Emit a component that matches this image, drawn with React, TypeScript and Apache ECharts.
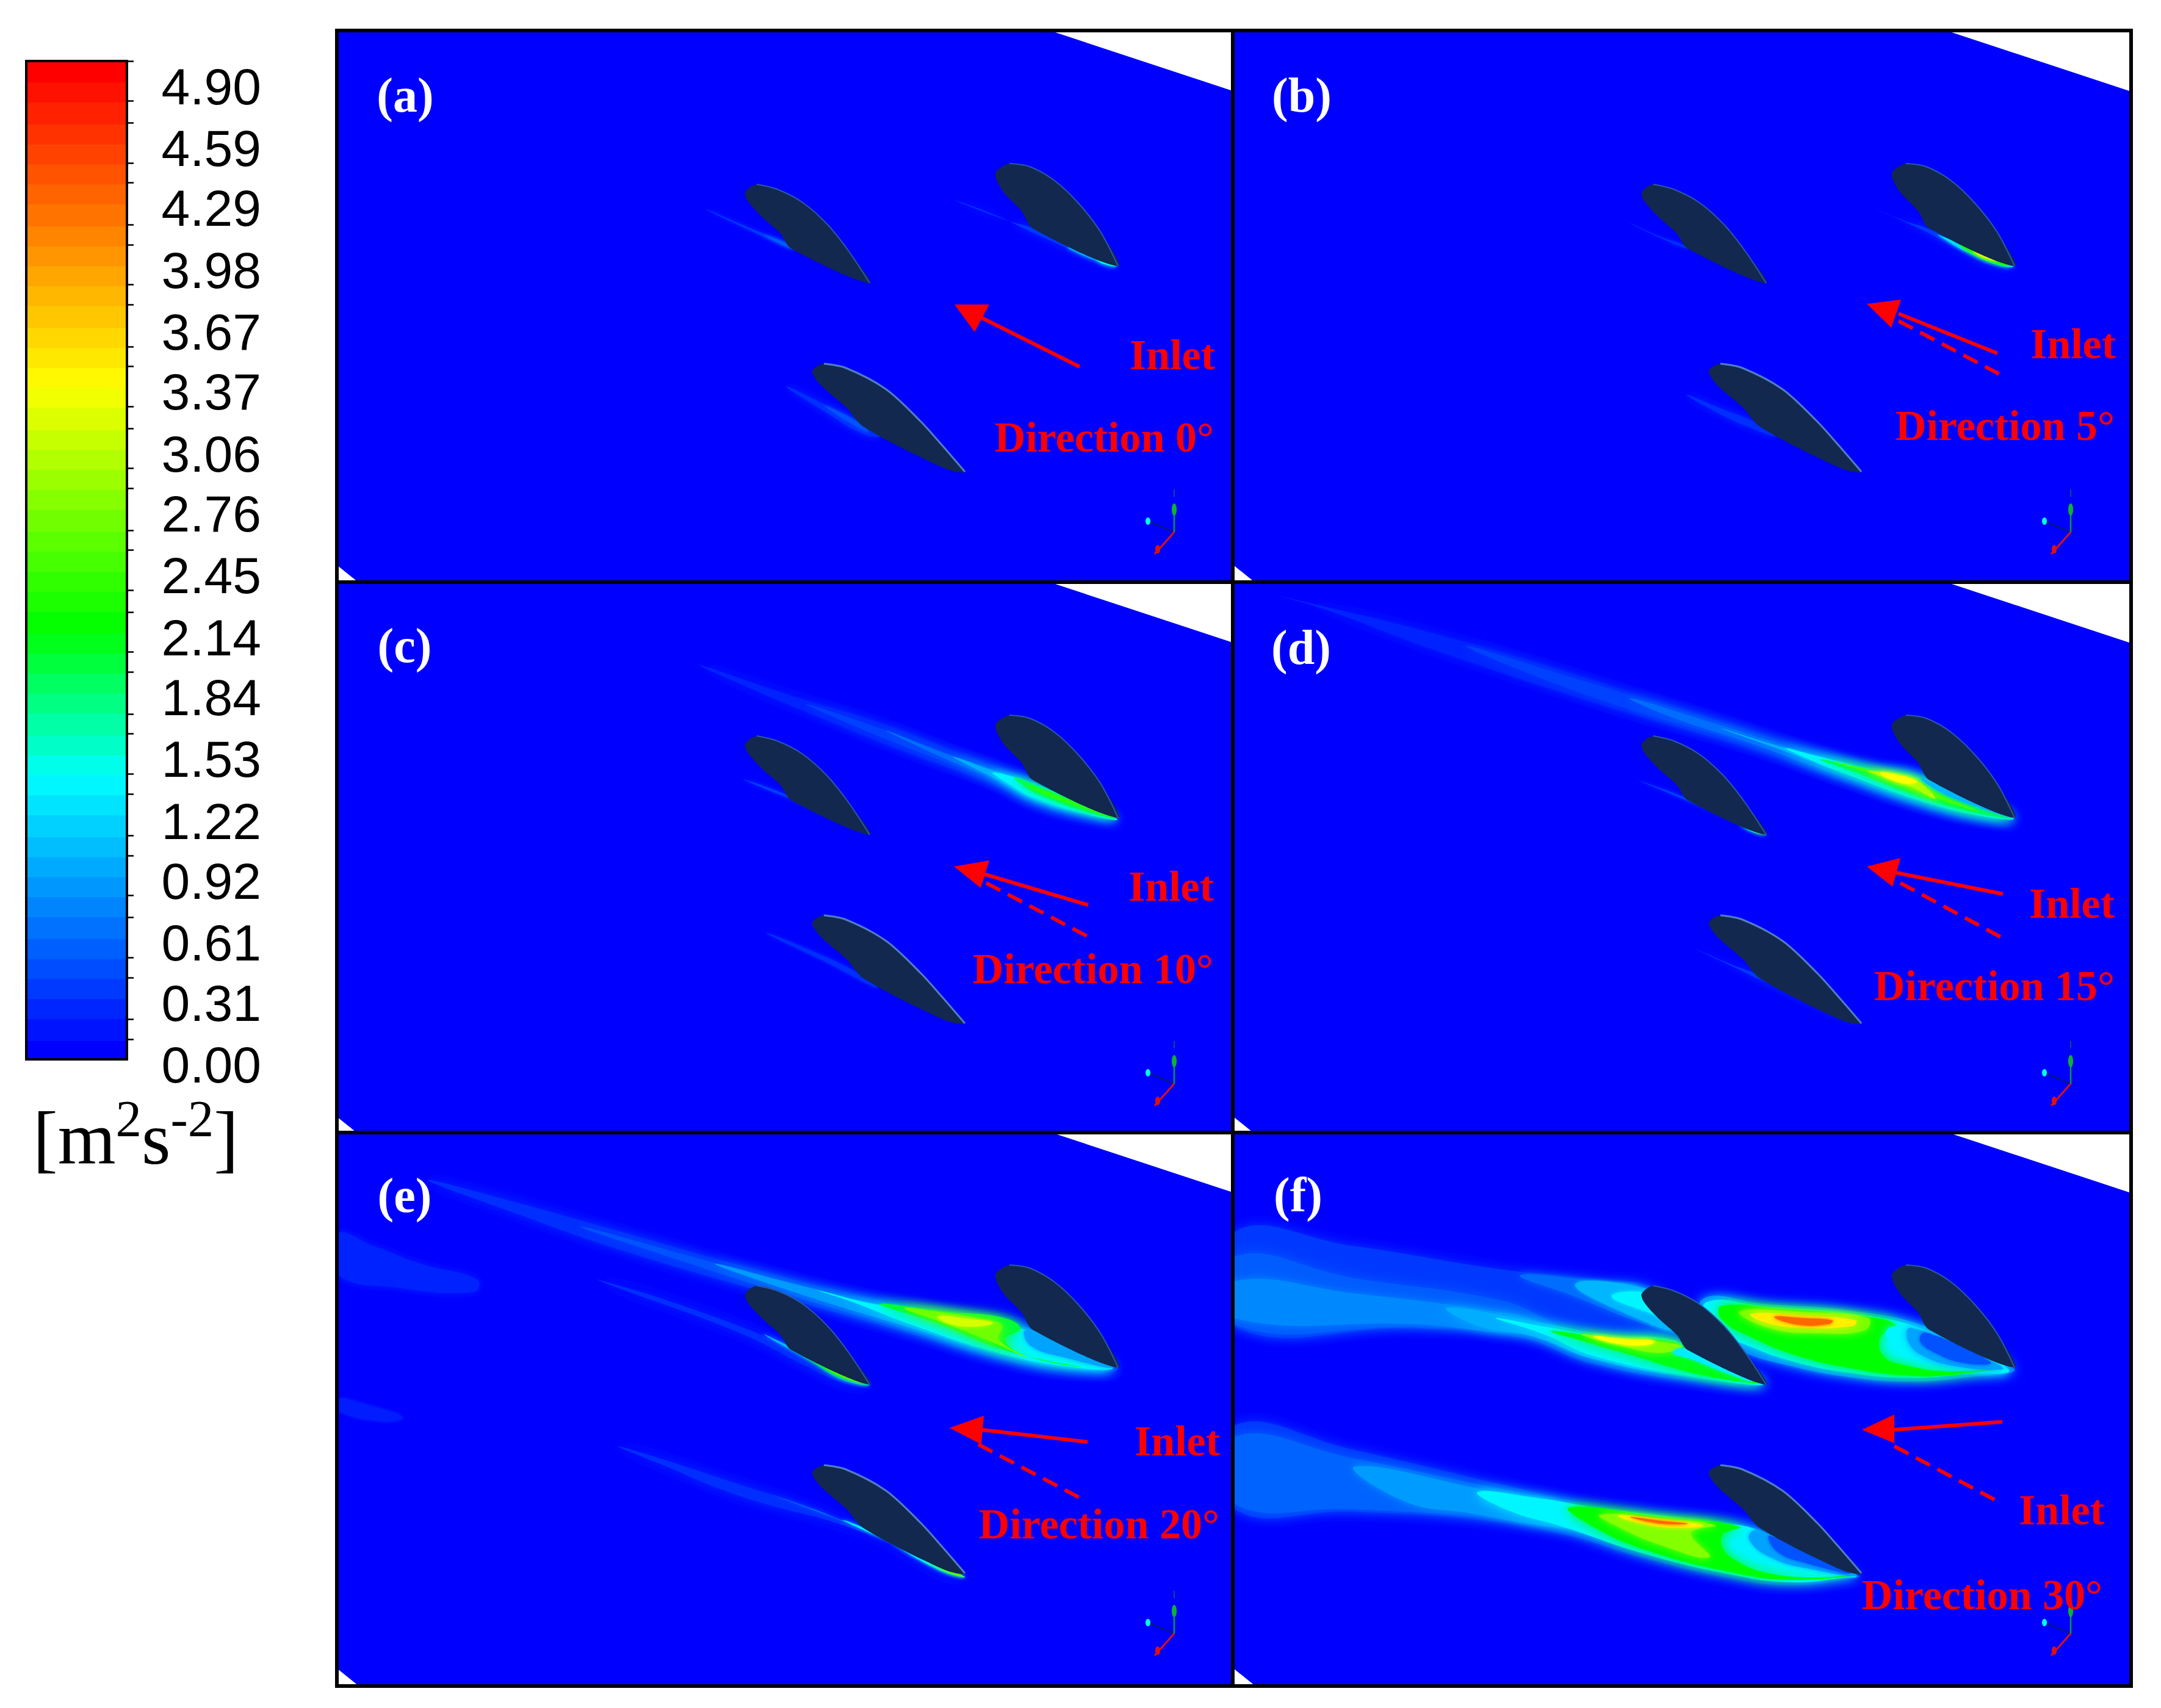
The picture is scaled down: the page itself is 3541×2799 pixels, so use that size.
import { useEffect, useRef } from 'react'
import * as echarts from 'echarts'

type Pt = number[]
type Layer = [number, Pt[]]

// colour scale, value then colour
const scaleStops: [number, number[]][] = [
  [0, [0, 0, 255]],
  [1.4, [0, 255, 255]],
  [2.16, [0, 255, 0]],
  [3.4, [255, 255, 0]],
  [5, [255, 0, 0]],
]

const tickValues = [0.0, 0.31, 0.61, 0.92, 1.22, 1.53, 1.84, 2.14, 2.45, 2.76, 3.06, 3.37, 3.67, 3.98, 4.29, 4.59, 4.9]
const minorValues = [
  0.1, 0.2, 0.41, 0.51, 0.71, 0.82, 1.02, 1.12, 1.33, 1.43, 1.63, 1.73, 1.94, 2.04, 2.24, 2.35, 2.55, 2.65, 2.86, 2.96,
  3.16, 3.27, 3.47, 3.57, 3.78, 3.88, 4.08, 4.18, 4.39, 4.49, 4.69, 4.8, 5.0,
]
const bandValues = [
  0.05, 0.15, 0.26, 0.36, 0.46, 0.56, 0.66, 0.77, 0.87, 0.97, 1.07, 1.17, 1.28, 1.38, 1.48, 1.58, 1.68, 1.79, 1.89, 1.99,
  2.09, 2.19, 2.3, 2.4, 2.5, 2.6, 2.7, 2.81, 2.91, 3.01, 3.11, 3.21, 3.32, 3.42, 3.52, 3.62, 3.72, 3.83, 3.93, 4.03,
  4.13, 4.23, 4.34, 4.44, 4.54, 4.64, 4.74, 4.85, 4.95,
]

// blade outlines in panel pixels, leading edge first, first 7 points are the upper side
const bladeA: Pt[] = [[669, 265], [688, 252], [721, 260], [762, 281], [803, 317], [839, 362], [873, 414], [744, 357], [727, 333], [696, 305], [673, 279]]
const bladeB: Pt[] = [[1079, 234], [1102, 218], [1135, 223], [1176, 246], [1216, 284], [1252, 331], [1280, 386], [1140, 324], [1122, 296], [1091, 263]]
const bladeC: Pt[] = [[779, 558], [798, 546], [834, 553], [900, 588], [956, 640], [992, 680], [1029, 723], [997, 718], [864, 650], [834, 617], [793, 581]]

const wakesA: Layer[] = [
  [0.3, [[605, 293], [680, 325], [745, 352], [745, 358], [680, 329]]],
  [0.5, [[700, 335], [748, 354], [748, 359]]],
  [0.3, [[1012, 278], [1100, 312], [1144, 325], [1277, 386], [1270, 388], [1140, 331], [1080, 303]]],
  [0.9, [[1200, 352], [1277, 386], [1265, 385], [1200, 358]]],
  [1.5, [[1245, 375], [1277, 386], [1255, 382]]],
  [0.25, [[736, 583], [800, 613], [862, 645], [890, 665], [860, 660], [800, 625]]],
  [0.45, [[800, 615], [860, 645], [870, 658], [820, 630]]],
]
const wakesB: Layer[] = [
  [0.25, [[649, 315], [700, 338], [745, 354], [745, 358], [700, 340]]],
  [0.3, [[1052, 292], [1100, 312], [1140, 325], [1277, 385], [1240, 384], [1185, 356], [1125, 325]]],
  [1.2, [[1155, 335], [1277, 386], [1255, 385], [1200, 362], [1170, 345]]],
  [2.3, [[1190, 350], [1270, 385], [1245, 380], [1205, 362]]],
  [3.2, [[1212, 362], [1250, 378], [1228, 372]]],
  [0.25, [[743, 597], [800, 620], [862, 645], [890, 665], [860, 656], [800, 630]]],
]
const wakesC: Layer[] = [
  [0.2, [[595, 136], [750, 188], [891, 231], [1031, 285], [1134, 323], [1277, 388], [1237, 386], [1144, 363], [1078, 331], [937, 280], [778, 216], [656, 165]]],
  [0.35, [[770, 200], [891, 240], [1000, 280], [1120, 322], [1277, 388], [1237, 384], [1144, 360], [1075, 325], [937, 272], [830, 228]]],
  [0.6, [[900, 243], [1000, 282], [1120, 323], [1277, 388], [1237, 384], [1144, 359], [1075, 323], [980, 282]]],
  [0.95, [[1010, 286], [1085, 312], [1130, 325], [1277, 388], [1237, 383], [1144, 357], [1085, 325], [1040, 303]]],
  [1.35, [[1075, 312], [1130, 327], [1277, 388], [1237, 382], [1144, 354], [1100, 330]]],
  [1.9, [[1110, 320], [1150, 335], [1277, 387], [1235, 378], [1150, 348], [1120, 330]]],
  [2.4, [[1130, 332], [1270, 386], [1240, 376], [1155, 345]]],
  [0.35, [[666, 323], [745, 352], [872, 413], [745, 356], [700, 338]]],
  [0.25, [[703, 575], [780, 605], [862, 645], [885, 665], [800, 622]]],
]
const wakesD: Layer[] = [
  [0.2, [[68, 21], [382, 99], [757, 214], [944, 274], [1038, 303], [1123, 317], [1277, 386], [1235, 390], [1132, 369], [991, 323], [851, 274], [607, 202], [335, 113], [148, 44]]],
  [0.35, [[382, 105], [600, 170], [800, 230], [944, 278], [1040, 305], [1120, 318], [1277, 386], [1235, 387], [1132, 365], [991, 318], [851, 268], [607, 195]]],
  [0.6, [[650, 190], [800, 235], [944, 280], [1040, 306], [1120, 319], [1277, 386], [1235, 386], [1132, 363], [991, 316], [851, 265], [720, 222]]],
  [0.95, [[800, 240], [900, 270], [960, 285], [1050, 307], [1120, 320], [1277, 386], [1235, 385], [1132, 361], [1000, 314], [900, 276]]],
  [1.35, [[905, 272], [960, 286], [1050, 308], [1120, 321], [1277, 386], [1235, 385], [1132, 360], [1000, 313], [945, 291]]],
  [1.9, [[960, 290], [1050, 309], [1115, 322], [1160, 345], [1277, 386], [1235, 382], [1135, 355], [1020, 312]]],
  [2.5, [[985, 295], [1060, 312], [1115, 325], [1150, 345], [1220, 375], [1135, 348], [1040, 312]]],
  [3.0, [[1040, 309], [1100, 318], [1125, 328], [1150, 355], [1110, 335], [1060, 318]]],
  [3.4, [[1060, 312], [1105, 320], [1120, 328], [1090, 328]]],
  [1.0, [[1128, 322], [1277, 386], [1215, 367], [1155, 342]]],
  [0.35, [[663, 325], [745, 355], [873, 414], [745, 359], [700, 340]]],
  [1.5, [[830, 395], [873, 414], [845, 407]]],
  [3.0, [[850, 402], [870, 413], [855, 408]]],
  [0.3, [[757, 601], [820, 628], [865, 645], [1028, 722], [1010, 718], [860, 650], [810, 626]]],
]
const wakesE: Layer[] = [
  [0.2, [[0, 167], [60, 187], [140, 217], [230, 242], [225, 262], [100, 255], [0, 232]]],
  [0.15, [[0, 437], [50, 447], [108, 467], [80, 475], [0, 457]]],
  [0.25, [[149, 79], [281, 112], [470, 165], [659, 218], [848, 266], [1037, 301], [1131, 322], [1279, 386], [1207, 393], [1084, 373], [942, 331], [755, 278], [470, 195], [281, 129]]],
  [0.45, [[400, 155], [659, 225], [800, 260], [848, 270], [1037, 303], [1130, 324], [1270, 385], [1200, 390], [1084, 370], [950, 329], [760, 273], [560, 210]]],
  [0.85, [[620, 216], [800, 262], [930, 290], [1037, 304], [1130, 324], [1270, 385], [1200, 388], [1084, 365], [950, 324], [760, 266]]],
  [1.35, [[790, 260], [880, 282], [1037, 305], [1125, 324], [1270, 385], [1200, 385], [1084, 362], [950, 319], [840, 277]]],
  [2.0, [[890, 282], [1000, 295], [1090, 304], [1120, 322], [1095, 340], [1130, 367], [1220, 385], [1100, 359], [980, 312]]],
  [2.7, [[930, 289], [1000, 297], [1060, 307], [1090, 317], [1085, 340], [1130, 369], [1080, 347], [1000, 315]]],
  [3.2, [[985, 302], [1040, 307], [1075, 313], [1040, 319], [1000, 313]]],
  [0.9, [[1130, 325], [1270, 385], [1190, 369], [1135, 349]]],
  [0.25, [[428, 242], [565, 284], [735, 349], [871, 414], [829, 411], [772, 385], [659, 329], [451, 252]]],
  [1.0, [[700, 332], [750, 355], [871, 413], [830, 407], [775, 375]]],
  [2.2, [[765, 365], [871, 412], [830, 403], [790, 382]]],
  [3.4, [[800, 382], [865, 411], [830, 399]]],
  [0.25, [[461, 515], [612, 562], [829, 637], [1027, 729], [999, 726], [867, 658], [659, 596], [527, 543]]],
  [0.6, [[700, 590], [829, 637], [1000, 718], [867, 654], [760, 612]]],
  [1.3, [[830, 637], [1027, 728], [985, 717], [870, 652]]],
  [2.6, [[960, 697], [1027, 728], [1000, 721]]],
]
const wakesF: Layer[] = [
  [0.3, [[0, 165], [197, 187], [437, 225], [600, 242], [700, 262], [780, 367], [870, 413], [760, 409], [585, 379], [470, 337], [300, 322], [0, 317]]],
  [0.5, [[0, 205], [200, 240], [420, 272], [500, 300], [560, 345], [470, 330], [300, 320], [0, 315]]],
  [0.75, [[0, 245], [200, 265], [400, 290], [500, 312], [490, 330], [300, 315], [0, 305]]],
  [0.6, [[470, 235], [600, 245], [676, 255], [725, 300], [735, 330], [660, 310], [560, 270]]],
  [1.0, [[560, 250], [676, 257], [725, 297], [735, 326], [660, 305]]],
  [1.35, [[620, 270], [680, 265], [730, 305], [738, 322], [690, 300]]],
  [0.95, [[350, 288], [500, 312], [610, 332], [720, 340], [760, 365], [870, 412], [760, 404], [590, 372], [490, 335], [400, 318]]],
  [1.35, [[430, 305], [510, 319], [610, 335], [720, 342], [760, 367], [870, 412], [760, 402], [590, 367], [510, 332]]],
  [2.1, [[520, 326], [610, 337], [705, 342], [745, 355], [800, 392], [870, 412], [770, 399], [640, 362], [570, 342]]],
  [2.8, [[570, 332], [640, 339], [710, 345], [735, 352], [700, 362], [640, 352]]],
  [3.4, [[590, 335], [640, 339], [690, 342], [680, 349], [630, 347]]],
  [1.3, [[740, 355], [850, 409], [800, 392], [750, 372], [720, 362]]],
  [0.7, [[770, 273], [870, 282], [1010, 293], [1135, 319], [1279, 387], [1202, 402], [1106, 409], [1011, 402], [915, 384], [830, 359], [780, 327]]],
  [1.35, [[775, 279], [880, 287], [1010, 297], [1130, 323], [1270, 389], [1200, 397], [1106, 403], [1011, 395], [920, 377], [840, 349], [785, 322]]],
  [2.15, [[800, 285], [900, 290], [1000, 299], [1085, 315], [1060, 337], [1065, 367], [1100, 382], [1170, 392], [1260, 387], [1170, 399], [1100, 399], [1010, 387], [925, 367], [850, 337], [800, 307]]],
  [2.75, [[829, 294], [934, 295], [1040, 305], [1035, 325], [960, 330], [880, 322]]],
  [3.5, [[848, 298], [934, 301], [1020, 309], [1015, 318], [934, 321], [870, 312]]],
  [4.35, [[886, 303], [934, 305], [982, 309], [975, 315], [925, 316]]],
  [1.35, [[1070, 325], [1110, 321], [1265, 388], [1185, 382], [1120, 372], [1085, 352]]],
  [0.9, [[1110, 321], [1250, 379], [1260, 389], [1190, 385], [1130, 367], [1105, 342]]],
  [0.45, [[1135, 329], [1240, 377], [1200, 379], [1150, 362], [1125, 342]]],
  [0.3, [[0, 482], [197, 521], [437, 577], [580, 610], [695, 625], [819, 640], [858, 651], [1025, 727], [1001, 734], [915, 743], [819, 732], [676, 699], [532, 657], [389, 634], [197, 622], [0, 616]]],
  [0.55, [[0, 500], [197, 535], [437, 585], [560, 612], [620, 650], [532, 650], [389, 630], [197, 618], [0, 608]]],
  [0.85, [[200, 548], [437, 592], [560, 617], [600, 645], [532, 648], [389, 625], [280, 605]]],
  [1.35, [[400, 590], [500, 600], [590, 615], [695, 628], [819, 643], [860, 653], [1020, 727], [1000, 731], [915, 738], [819, 726], [676, 692], [540, 647], [450, 620]]],
  [2.15, [[550, 615], [695, 630], [830, 647], [800, 662], [815, 697], [900, 727], [1015, 727], [910, 734], [819, 722], [676, 685], [590, 647]]],
  [2.8, [[600, 627], [700, 633], [790, 645], [750, 657], [780, 697], [700, 677], [630, 647]]],
  [3.5, [[630, 629], [700, 635], [770, 645], [700, 647]]],
  [4.35, [[650, 631], [700, 637], [745, 642], [700, 642]]],
  [0.9, [[858, 653], [1020, 725], [950, 717], [880, 697], [845, 667]]],
  [0.45, [[880, 662], [1010, 722], [940, 707], [890, 687]]],
]

// inlet arrows: solid shaft, head triangle, dashed reference shaft
const arrowSolids: Pt[][] = [
  [[1057, 471], [1217, 551]],
  [[1090, 464], [1252, 529]],
  [[1059, 478], [1231, 529]],
  [[1085, 476], [1261, 511]],
  [[1056, 488], [1230, 508]],
  [[1083, 488], [1260, 475]],
]
const arrowHeads: Pt[][] = [
  [[1012, 449], [1069, 449], [1045, 494]],
  [[1038, 448], [1094, 441], [1078, 487]],
  [[1011, 466], [1069, 456], [1055, 501]],
  [[1038, 466], [1093, 452], [1080, 499]],
  [[1004, 485], [1060, 465], [1056, 512]],
  [[1030, 488], [1083, 463], [1083, 510]],
]
const arrowDashes: (Pt[] | null)[] = [
  null,
  [[1090, 476], [1259, 565]],
  [[1064, 493], [1231, 581]],
  [[1093, 493], [1260, 583]],
  [[1051, 512], [1226, 604]],
  [[1083, 515], [1250, 604]],
]

const panelLetters = ['(a)', '(b)', '(c)', '(d)', '(e)', '(f)']
const letterSpots: Pt[] = [[112, 106], [112, 106], [111, 104], [111, 107], [111, 104], [106, 103]]
const directionTexts = ['Direction 0°', 'Direction 5°', 'Direction 10°', 'Direction 15°', 'Direction 20°', 'Direction 30°']
const inletSpots: Pt[] = [[1439, 531], [1446, 513], [1437, 498], [1444, 526], [1447, 506], [1427, 619]]
const directionSpots: Pt[] = [[1437, 666], [1444, 647], [1436, 633], [1444, 661], [1446, 642], [1424, 758]]

const panelWakes = [wakesA, wakesB, wakesC, wakesD, wakesE, wakesF]
const panelLefts = [552, 2021, 552, 2021, 552, 2021]
const panelTops = [50, 50, 954, 954, 1855, 1855]
const panelHeights = [905, 905, 905, 905, 908, 908]
const panelWidth = 1471

const triadGreen: Pt[] = [[1372, 822], [1372, 781]]
const triadTip: Pt = [1372, 758]
const triadRed: Pt[] = [[1372, 822], [1340, 858]]
const triadDark: Pt[] = [[1372, 822], [1329, 804]]

function scaleColour(v: number) {
  for (let i = 1; i < scaleStops.length; i++) {
    const [v0, c0] = scaleStops[i - 1]
    const [v1, c1] = scaleStops[i]
    if (v <= v1) {
      const t = (v - v0) / (v1 - v0)
      return `rgb(${c0.map((c, k) => Math.round(c + (c1[k] - c) * t)).join(',')})`
    }
  }
  return 'rgb(255,0,0)'
}

const serif = '"Liberation Serif", serif'

function panelSeries(p: number) {
  const h = panelHeights[p]
  const axes = { coordinateSystem: 'cartesian2d', xAxisIndex: p, yAxisIndex: p, silent: true, clip: true }
  const sheet: Pt[] = [[0, 0], [1168, 0], [panelWidth, 100], [panelWidth, h], [36, h], [0, h - 29]]
  const wakes = panelWakes[p]
  const blades = [bladeA, bladeB, bladeC]

  return [
    {
      type: 'custom',
      ...axes,
      data: [[0, 0]],
      renderItem: (_: any, api: any) => ({
        type: 'polygon',
        shape: { points: sheet.map((q) => api.coord(q)) },
        style: { fill: '#0000ff' },
      }),
    },
    {
      type: 'custom',
      ...axes,
      data: wakes.map((_, i) => [i, 0]),
      renderItem: (params: any, api: any) => {
        const [v, pts] = wakes[params.dataIndex]
        const fill = scaleColour(v)
        return {
          type: 'polygon',
          shape: { points: pts.map((q) => api.coord(q)), smooth: 0.45 },
          style: { fill, shadowBlur: pts.length > 7 ? 20 : pts.length > 5 ? 14 : 6, shadowColor: fill },
        }
      },
    },
    {
      type: 'custom',
      ...axes,
      data: blades.map((_, i) => [i, 0]),
      renderItem: (params: any, api: any) => {
        const blade = blades[params.dataIndex]
        const pts = blade.map((q) => api.coord(q))
        return {
          type: 'group',
          children: [
            {
              type: 'polygon',
              shape: { points: pts, smooth: 0.3 },
              style: { fill: '#12284e' },
            },
            {
              type: 'polyline',
              shape: { points: pts.slice(1, 7), smooth: 0.3 },
              style: {
                fill: 'none',
                stroke: params.dataIndex === 2 ? '#4f7fc0' : '#2a5aa8',
                lineWidth: params.dataIndex === 2 ? 3 : 2,
              },
            },
          ],
        }
      },
    },
    {
      type: 'custom',
      ...axes,
      data: [[0, 0]],
      renderItem: (_: any, api: any) => {
        const line = (pts: Pt[], style: any) => {
          const [a, b] = pts.map((q) => api.coord(q))
          return { type: 'line', shape: { x1: a[0], y1: a[1], x2: b[0], y2: b[1] }, style }
        }
        const dash = arrowDashes[p]
        const children: any[] = [
          line(arrowSolids[p], { stroke: '#ff0000', lineWidth: 6 }),
          {
            type: 'polygon',
            shape: { points: arrowHeads[p].map((q) => api.coord(q)) },
            style: { fill: '#ff0000' },
          },
          line(triadDark, { stroke: '#0a1a6a', lineWidth: 2 }),
          line(triadGreen, { stroke: '#0f9a30', lineWidth: 2.5 }),
          line(triadRed, { stroke: '#e01010', lineWidth: 3 }),
        ]
        if (dash) children.push(line(dash, { stroke: '#ff0000', lineWidth: 6, lineDash: [26, 14] }))
        const [cx, cy] = api.coord(triadDark[1])
        children.push({ type: 'ellipse', shape: { cx, cy, rx: 4, ry: 6 }, style: { fill: '#00ffe0' } })
        const [gx, gy] = api.coord(triadGreen[1])
        children.push({ type: 'ellipse', shape: { cx: gx, cy: gy + 4, rx: 4, ry: 10 }, style: { fill: '#10b030' } })
        const [tx, ty] = api.coord(triadTip)
        children.push({
          type: 'line',
          shape: { x1: tx, y1: ty - 6, x2: tx, y2: ty + 6 },
          style: { stroke: '#0f6a50', lineWidth: 1.5 },
        })
        const [rx, ry] = api.coord(triadRed[1])
        children.push({ type: 'ellipse', shape: { cx: rx + 5, cy: ry - 8, rx: 4, ry: 7 }, style: { fill: '#e01010' } })
        return { type: 'group', children }
      },
    },
    {
      type: 'custom',
      ...axes,
      data: [[0, 0]],
      renderItem: (_: any, api: any) => {
        const text = (spot: Pt, str: string, fill: string, fontSize: number, align: string) => {
          const [x, y] = api.coord(spot)
          return {
            type: 'text',
            x,
            y,
            style: {
              text: str,
              fill,
              fontSize,
              fontFamily: serif,
              fontWeight: 'bold',
              align,
              verticalAlign: 'middle',
            },
          }
        }
        return {
          type: 'group',
          children: [
            text(letterSpots[p], panelLetters[p], '#ffffff', 80, 'center'),
            text(inletSpots[p], 'Inlet', '#ff0000', 70, 'right'),
            text(directionSpots[p], directionTexts[p], '#ff0000', 70, 'right'),
          ],
        }
      },
    },
  ]
}

export default function App() {
  const chartRef = useRef<HTMLDivElement>(null)

  useEffect(() => {
    if (!chartRef.current) return
    const chart = echarts.init(chartRef.current, undefined, { renderer: 'svg' })

    const grids: any[] = panelLefts.map((left, i) => ({
      left,
      top: panelTops[i],
      width: panelWidth,
      height: panelHeights[i],
      show: false,
    }))
    const xAxes: any[] = panelLefts.map((_, i) => ({ type: 'value', gridIndex: i, min: 0, max: panelWidth, show: false }))
    const yAxes: any[] = panelLefts.map((_, i) => ({
      type: 'value',
      gridIndex: i,
      min: 0,
      max: panelHeights[i],
      inverse: true,
      show: false,
    }))

    // colour bar
    grids.push({ left: 43, top: 100, width: 165, height: 1636, show: false })
    xAxes.push({ type: 'value', gridIndex: 6, min: 0, max: 1, show: false })
    yAxes.push({
      type: 'value',
      gridIndex: 6,
      position: 'right',
      min: 0,
      max: 5,
      axisLine: { show: true, lineStyle: { color: '#000', width: 3 } },
      axisTick: { show: true, customValues: tickValues, length: 21, lineStyle: { color: '#000', width: 3 } },
      axisLabel: {
        show: true,
        customValues: tickValues,
        formatter: (v: number) => v.toFixed(2),
        align: 'right',
        verticalAlign: 'top',
        lineHeight: 18,
        margin: 220,
        color: '#000',
        fontSize: 84,
        fontFamily: '"Liberation Sans", sans-serif',
      },
      splitLine: { show: false },
    })
    yAxes.push({
      type: 'value',
      gridIndex: 6,
      position: 'right',
      min: 0,
      max: 5,
      axisLine: { show: false },
      axisTick: { show: true, customValues: minorValues, length: 11, lineStyle: { color: '#000', width: 2.5 } },
      axisLabel: { show: false },
      splitLine: { show: false },
    })

    const barSeries = {
      type: 'custom',
      coordinateSystem: 'cartesian2d',
      xAxisIndex: 6,
      yAxisIndex: 6,
      silent: true,
      clip: true,
      data: bandValues.map((v) => [0, v]),
      renderItem: (params: any, api: any) => {
        const v = bandValues[params.dataIndex]
        // a little over half a band so that rounded band values leave no seam
        const half = 0.058
        const a = api.coord([0, v + half])
        const b = api.coord([1, v - half])
        return {
          type: 'rect',
          shape: { x: a[0], y: a[1], width: b[0] - a[0], height: b[1] - a[1] },
          style: { fill: scaleColour((params.dataIndex / (bandValues.length - 1)) * 5) },
        }
      },
    }

    chart.setOption({
      animation: false,
      backgroundColor: '#ffffff',
      grid: grids,
      xAxis: xAxes,
      yAxis: yAxes,
      series: [
        ...panelLefts.flatMap((_, i) => panelSeries(i)),
        barSeries,
        // empty series so the minor tick axis is drawn
        { type: 'custom', coordinateSystem: 'cartesian2d', xAxisIndex: 6, yAxisIndex: 7, data: [], renderItem: () => null },
      ],
      graphic: [
        {
          type: 'rect',
          z: 100,
          shape: { x: 43, y: 100, width: 165, height: 1636 },
          style: { fill: 'none', stroke: '#000', lineWidth: 4 },
        },
        {
          type: 'rect',
          z: 100,
          shape: { x: 552, y: 50, width: 2940, height: 2713 },
          style: { fill: 'none', stroke: '#000', lineWidth: 6 },
        },
        { type: 'line', z: 100, shape: { x1: 2020, y1: 50, x2: 2020, y2: 2763 }, style: { stroke: '#000', lineWidth: 6 } },
        { type: 'line', z: 100, shape: { x1: 552, y1: 954, x2: 3492, y2: 954 }, style: { stroke: '#000', lineWidth: 6 } },
        { type: 'line', z: 100, shape: { x1: 552, y1: 1856, x2: 3492, y2: 1856 }, style: { stroke: '#000', lineWidth: 6 } },
        {
          type: 'text',
          z: 100,
          left: 54,
          top: 1790,
          style: {
            text: '{m|[m}{sup|2}{m|s}{sup|-2}{m|]}',
            fill: '#000',
            rich: {
              m: { fontSize: 122, fontFamily: serif, lineHeight: 150, fill: '#000' },
              sup: { fontSize: 85, fontFamily: serif, lineHeight: 100, verticalAlign: 'top', fill: '#000' },
            },
          },
        },
      ],
    })

    return () => chart.dispose()
  }, [])

  return <div ref={chartRef} style={{ position: 'absolute', left: 0, top: 0, width: 3541, height: 2799 }} />
}
